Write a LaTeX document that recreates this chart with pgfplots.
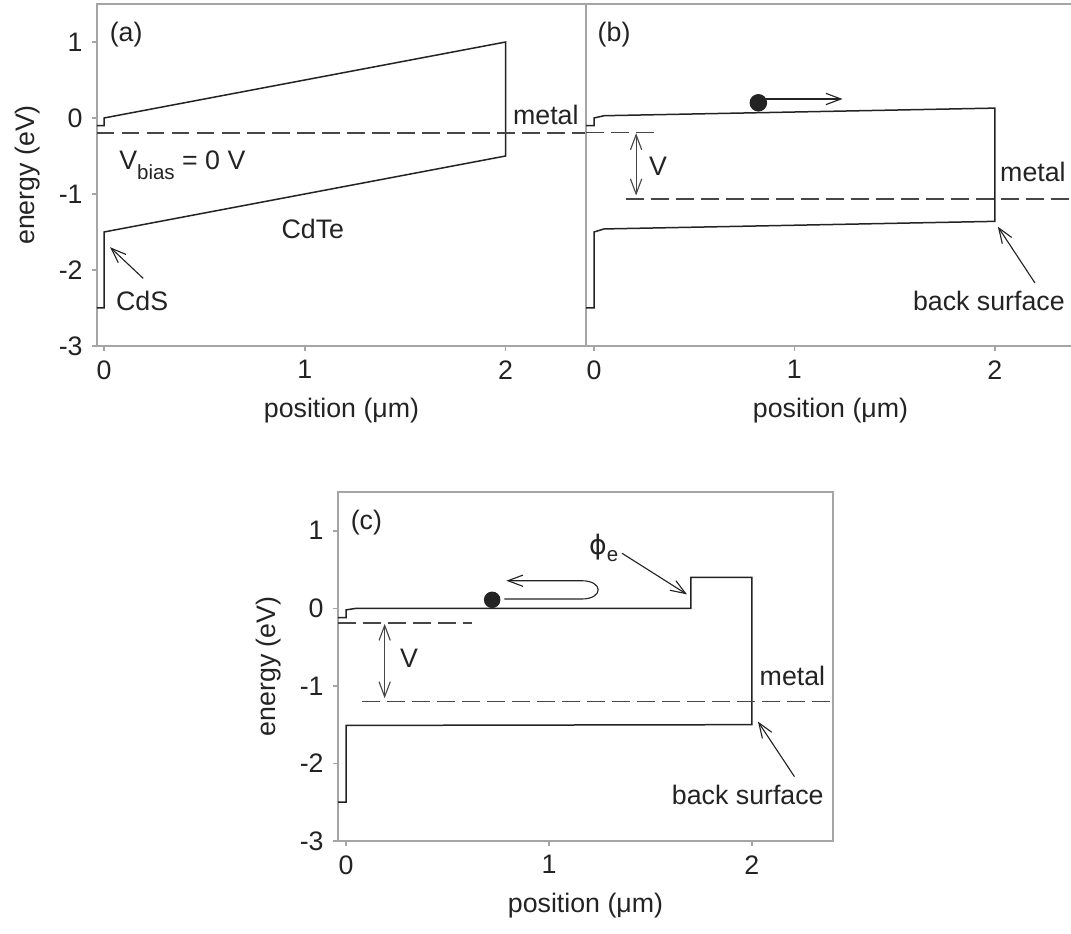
\documentclass[border=0pt]{standalone}
\usepackage{pgfplots}
\pgfplotsset{compat=1.18}
\usepackage{fontspec}
\setmainfont{Liberation Sans}
\newfontfamily\djv{DejaVu Sans}
\usetikzlibrary{arrows.meta}
\definecolor{axgray}{RGB}{165,165,165}
\definecolor{ink}{RGB}{35,35,35}
\definecolor{dgray}{RGB}{70,70,70}
\pgfplotsset{
  panel/.style={
    scale only axis, anchor=south west,
    ymin=-3, ymax=1.5,
    ytick={-3,-2,-1,0,1}, xtick={0,1,2},
    tick pos=left, tick align=outside, major tick length=2pt,
    axis line style={axgray, line width=0.8pt},
    major tick style={axgray, line width=0.6pt},
    tick label style={text=ink},
    label style={text=ink},
    /pgf/number format/assume math mode=true,
    xlabel={position (μm)},
  },
  band/.style={ink, line width=0.6pt, mark=none, sharp plot},
  dline/.style={dgray, line width=0.7pt, mark=none, dash pattern=on 7pt off 3pt},
}
\tikzset{
  arr/.style={ink, line width=0.45pt, -{Straight Barb[length=6pt,width=4.5pt]}},
  darr/.style={dgray, line width=0.45pt, {Straight Barb[length=6pt,width=4.5pt]}-{Straight Barb[length=6pt,width=4.5pt]}},
}
\begin{document}
\fontsize{10.7}{13}\selectfont
\begin{tikzpicture}
\useasboundingbox (0,0) rectangle (428.4pt,373.6pt);
% ---------------- (a)
\begin{axis}[panel, at={(38.8pt,235.2pt)}, width=195.6pt, height=136.8pt,
  xmin=-0.035, xmax=2.4, ylabel={energy (eV)}]
\addplot[band] coordinates {(-0.05,-0.1) (0,-0.1) (0,0) (2,1) (2,-0.5) (0,-1.5) (0,-2.5) (-0.05,-2.5)};
\addplot[dline] coordinates {(-0.035,-0.2) (2.4,-0.2)};
\node[text=ink] at (axis cs:0.11,1.1) {(a)};
\node[text=ink, anchor=base] at (axis cs:2.2,-0.09) {metal};
\node[text=ink, anchor=base] at (axis cs:0.39,-0.68) {V\raisebox{-4pt}{\fontsize{8.2}{9}\selectfont bias} = 0 V};
\node[text=ink, anchor=base] at (axis cs:1.04,-1.58) {CdTe};
\node[text=ink, anchor=base] at (axis cs:0.19,-2.53) {CdS};
\draw[arr] (axis cs:0.195,-2.11) -- (axis cs:0.03,-1.70);
\end{axis}
% ---------------- (b)
\begin{axis}[panel, at={(234.4pt,235.2pt)}, width=195.6pt, height=136.8pt,
  xmin=-0.04, xmax=2.4, yticklabels={}, ytick=\empty]
\addplot[band] coordinates {(-0.05,-0.1) (0,-0.1) (0,0) (0.05,0.03) (2,0.13) (2,-1.36) (0.05,-1.46) (0,-1.5) (0,-2.5) (-0.05,-2.5)};
\addplot[dline] coordinates {(-0.04,-0.19) (0.3,-0.19)};
\addplot[dline] coordinates {(0.16,-1.07) (2.4,-1.07)};
\addplot[only marks, mark=*, mark size=3.3pt, ink] coordinates {(0.82,0.2)};
\draw[arr] (axis cs:0.86,0.25) -- (axis cs:1.24,0.25);
\draw[darr] (axis cs:0.21,-0.2) -- (axis cs:0.21,-1.02);
\node[text=ink] at (axis cs:0.32,-0.64) {V};
\node[text=ink] at (axis cs:0.10,1.1) {(b)};
\node[text=ink, anchor=base] at (axis cs:2.19,-0.84) {metal};
\node[text=ink, anchor=base] at (axis cs:1.97,-2.53) {back surface};
\draw[arr] (axis cs:2.20,-2.17) -- (axis cs:2.015,-1.43);
\end{axis}
% ---------------- (c)
\begin{axis}[panel, at={(135.2pt,37.2pt)}, width=198pt, height=139.6pt,
  xmin=-0.04, xmax=2.4, ylabel={energy (eV)}]
\addplot[band] coordinates {(-0.05,-0.12) (0,-0.12) (0,-0.02) (0.05,0) (1.7,0) (1.7,0.4) (2,0.4) (2,-1.5) (0,-1.51) (0,-2.5) (-0.05,-2.5)};
\addplot[dline] coordinates {(-0.04,-0.19) (0.62,-0.19)};
\addplot[dline] coordinates {(0.08,-1.2) (2.4,-1.2)};
\addplot[only marks, mark=*, mark size=3.1pt, ink] coordinates {(0.72,0.11)};
\draw[arr] (axis cs:0.78,0.12) -- (axis cs:1.16,0.12) .. controls (axis cs:1.27,0.12) and (axis cs:1.27,0.356) .. (axis cs:1.16,0.356) -- (axis cs:0.79,0.356);
\draw[darr] (axis cs:0.19,-0.2) -- (axis cs:0.19,-1.16);
\node[text=ink] at (axis cs:0.31,-0.64) {V};
\node[text=ink] at (axis cs:0.10,1.11) {(c)};
\node[text=ink] at (axis cs:1.27,0.78) {{\djv ϕ}\raisebox{-3pt}{\fontsize{8.2}{9}\selectfont e}};
\draw[arr] (axis cs:1.36,0.71) -- (axis cs:1.68,0.18);
\node[text=ink, anchor=base] at (axis cs:2.2,-0.99) {metal};
\node[text=ink, anchor=base] at (axis cs:1.98,-2.53) {back surface};
\draw[arr] (axis cs:2.21,-2.17) -- (axis cs:2.03,-1.46);
\end{axis}
\end{tikzpicture}
\end{document}
